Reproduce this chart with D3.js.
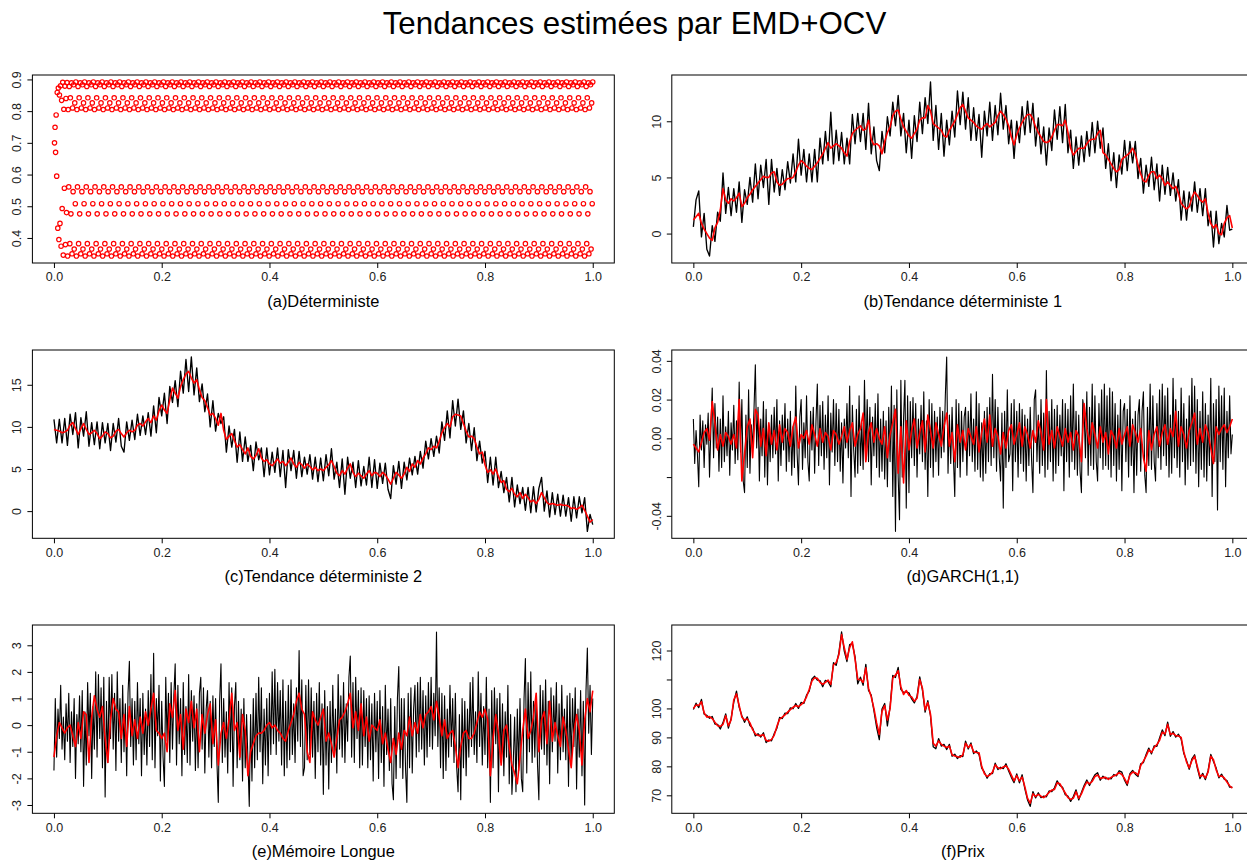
<!DOCTYPE html>
<html><head><meta charset="utf-8">
<script src="https://cdn.jsdelivr.net/npm/d3@7"></script>
<style>body{margin:0;background:#fff}svg{display:block}</style>
</head><body>
<svg id="chart" width="1247" height="863"></svg>
<script>
const title = "Tendances estimées par EMD+OCV";
const xTicks = [0, 0.2, 0.4, 0.6, 0.8, 1.0];
const xTickLabels = ["0.0", "0.2", "0.4", "0.6", "0.8", "1.0"];

// (a) Déterministe — points
const aValues = [
.700,.749,.670,.788,.595,.859,.431,.873,.395,.851,.446,.880,.374,.834,.493,.891,.346,.806,.557,.879,.379,.840,.480,.890,
.343,.805,.561,.878,.382,.842,.476,.889,.350,.810,.546,.883,.365,.826,.508,.892,
.343,.805,.561,.878,.382,.842,.476,.889,.350,.810,.546,.883,.365,.826,.508,.892,
.343,.805,.561,.878,.382,.842,.476,.889,.350,.810,.546,.883,.365,.826,.508,.892,
.343,.805,.561,.878,.382,.842,.476,.889,.350,.810,.546,.883,.365,.826,.508,.892,
.343,.805,.561,.878,.382,.842,.476,.889,.350,.810,.546,.883,.365,.826,.508,.892,
.343,.805,.561,.878,.382,.842,.476,.889,.350,.810,.546,.883,.365,.826,.508,.892,
.343,.805,.561,.878,.382,.842,.476,.889,.350,.810,.546,.883,.365,.826,.508,.892,
.343,.805,.561,.878,.382,.842,.476,.889,.350,.810,.546,.883,.365,.826,.508,.892,
.343,.805,.561,.878,.382,.842,.476,.889,.350,.810,.546,.883,.365,.826,.508,.892,
.343,.805,.561,.878,.382,.842,.476,.889,.350,.810,.546,.883,.365,.826,.508,.892,
.343,.805,.561,.878,.382,.842,.476,.889,.350,.810,.546,.883,.365,.826,.508,.892,
.343,.805,.561,.878,.382,.842,.476,.889,.350,.810,.546,.883,.365,.826,.508,.892,
.343,.805,.561,.878,.382,.842,.476,.889,.350,.810,.546,.883,.365,.826,.508,.892,
.343,.805,.561,.878,.382,.842,.476,.889,.350,.810,.546,.883,.365,.826,.508,.892,
.343,.805,.561,.878,.382,.842,.476,.889,.350,.810,.546,.883,.365,.826,.508,.892,
.343,.805,.561,.878,.382,.842,.476,.889,.350,.810,.546,.883,.365,.826,.508,.892,
.343,.805,.561,.878,.382,.842,.476,.889,.350,.810,.546,.883,.365,.826,.508,.892,
.343,.805,.561,.878,.382,.842,.476,.889,.350,.810,.546,.883,.365,.826,.508,.892,
.343,.805,.561,.878,.382,.842,.476,.889,.350,.810,.546,.883,.365,.826,.508,.892,
.343,.805,.561,.878,.382,.842,.476,.889,.350,.810,.546,.883,.365,.826,.508,.892,
.343,.805,.561,.878,.382,.842,.476,.889,.350,.810,.546,.883,.365,.826,.508,.892,
.343,.805,.561,.878,.382,.842,.476,.889,.350,.810,.546,.883,.365,.826,.508,.892,
.343,.805,.561,.878,.382,.842,.476,.889,.350,.810,.546,.883,.365,.826,.508,.892,
.343,.805,.561,.878,.382,.842,.476,.889,.350,.810,.546,.883,.365,.826,.508,.892,
.343,.805,.561,.878,.382,.842,.476,.889,.350,.810,.546,.883,.365,.826,.508,.892,
.343,.805,.561,.878,.382,.842,.476,.889,.350,.810,.546,.883,.365,.826,.508,.892,
.343,.805,.561,.878,.382,.842,.476,.889,.350,.810,.546,.883,.365,.826,.508,.892,
.343,.805,.561,.878,.382,.842,.476,.889,.350,.810,.546,.883,.365,.826,.508,.892,
.343,.805,.561,.878,.382,.842,.476,.889,.350,.810,.546,.883,.365,.826,.508,.892,
.343,.805,.561,.878,.382,.842,.476,.889,.350,.810,.546,.883,.365,.826,.508,.892,
.343,.805,.561,.878,.382,.842,.476,.889,.350,.810,.546,.883,.365,.826,.508,.892,
.343,.805,.561,.878,.382,.842,.476,.889,.350,.810,.546,.883,.365,.826,.508,.892,
.343,.805,.561,.878,.382,.842,.476,.889,.350,.810,.546,.883,.365,.826,.508,.892,
.343,.805,.561,.878,.382,.842,.476,.889,.350,.810,.546,.883,.365,.826,.508,.892,
.343,.805,.561,.878,.382,.842,.476,.889,.350,.810,.546,.883,.365,.826,.508,.892,
.343,.805,.561,.878,.382,.842,.476,.889,.350,.810,.546,.883,.365,.826,.508,.892,
.343,.805,.561,.878,.382,.842,.476,.889,.350,.810,.546,.883,.365,.826,.508,.892,
.343,.805,.561,.878,.382,.842,.476,.889,.350,.810,.546,.883,.365,.826,.508,.892,
.343,.805,.561,.878,.382,.842,.476,.889,.350,.810,.546,.883,.365,.826,.508,.892,
.343,.805,.561,.878,.382,.842,.476,.889,.350,.810,.546,.883,.365,.826,.508,.892,
.343,.805,.561,.878,.382,.842,.476,.889,.350,.810,.546,.883,.365,.826,.508,.892,
.343,.805,.561,.878,.382,.842,.476,.889,.350,.810,.546,.883,.365,.826,.508,.892,
.343,.805,.561,.878,.382,.842,.476,.889,.350,.810,.546,.883,.365,.826,.508,.892,
.343,.805,.561,.878,.382,.842,.476,.889,.350,.810,.546,.883,.365,.826,.508,.892,
.343,.805,.561,.878,.382,.842,.476,.889,.350,.810,.546,.883,.365,.826,.508,.892,
.343,.805,.561,.878,.382,.842,.476,.889,.350,.810,.546,.883,.365,.826,.508,.892,
.343,.805,.561,.878,.382,.842,.476,.889,.350,.810,.546,.883,.365,.826,.508,.892,
.343,.805,.561,.878,.382,.842,.476,.889,.350,.810,.546,.883,.365,.826,.508,.892,
.343,.805,.561,.878,.382,.842,.476,.889,.350,.810,.546,.883,.365,.826,.508,.892,
.343,.805,.561,.878,.382,.842,.476,.889,.350,.810,.546,.883,.365,.826,.508,.892,
.343,.805,.561,.878,.382,.842,.476,.889,.350,.810,.546,.883,.365,.826,.508,.892,
.343,.805,.561,.878,.382,.842,.476,.889,.350,.810,.546,.883,.365,.826,.508,.892,
.343,.805,.561,.878,.382,.842,.476,.889,.350,.810,.546,.883,.365,.826,.508,.892,
.343,.805,.561,.878,.382,.842,.476,.889,.350,.810,.546,.883,.365,.826,.508,.892,
.343,.805,.561,.878,.382,.842,.476,.889,.350,.810,.546,.883,.365,.826,.508,.892,
.343,.805,.561,.878,.382,.842,.476,.889,.350,.810,.546,.883,.365,.826,.508,.892,
.343,.805,.561,.878,.382,.842,.476,.889,.350,.810,.546,.883,.365,.826,.508,.892,
.343,.805,.561,.878,.382,.842,.476,.889,.350,.810,.546,.883,.365,.826,.508,.892,
.343,.805,.561,.878,.382,.842,.476,.889,.350,.810,.546,.883,.365,.826,.508,.892,
.343,.805,.561,.878,.382,.842,.476,.889,.350,.810,.546,.883,.365,.826,.508,.892
];
const aYTicks = [0.4, 0.5, 0.6, 0.7, 0.8, 0.9];
const aYLabels = ["0.4", "0.5", "0.6", "0.7", "0.8", "0.9"];

// (b) Tendance déterministe 1
const bBlack = [
0.6,3.0,3.8,-0.3,1.8,-1.4,-2.0,0.7,-0.7,1.9,
1.1,5.4,1.8,4.1,1.6,4.0,1.9,4.6,1.0,3.9,
2.6,5.0,2.8,6.2,3.1,6.1,4.1,6.6,2.6,6.6,
3.7,5.8,3.4,5.7,3.9,6.4,4.5,7.1,4.6,8.4,
5.2,7.5,4.6,7.1,4.6,7.5,4.6,8.5,6.2,9.1,
6.5,10.8,6.2,9.2,6.5,9.0,6.2,8.5,6.2,10.6,
8.0,10.7,8.2,10.7,7.5,11.6,7.1,9.5,6.5,5.6,
9.1,7.2,10.4,8.7,11.7,9.6,12.3,8.7,10.7,7.2,
10.1,6.7,10.5,8.2,11.7,8.9,12.1,9.8,13.5,8.3,
11.4,7.5,10.7,6.9,10.1,7.9,10.9,8.6,12.7,9.7,
12.6,9.3,12.1,8.3,11.2,8.3,10.6,6.8,10.9,8.7,
11.7,8.3,11.4,8.8,12.5,9.3,11.4,8.0,10.1,6.7,
10.0,8.1,11.3,8.8,11.8,9.0,11.6,7.8,10.3,7.1,
9.5,6.1,9.4,7.4,11.0,8.4,11.3,8.1,11.5,7.2,
9.2,5.8,8.6,6.1,8.7,6.4,9.1,6.9,9.9,7.2,
10.0,7.6,9.4,5.8,8.0,4.7,7.2,4.1,7.0,5.3,
8.3,5.6,8.2,6.3,8.2,4.9,6.7,3.6,6.1,4.2,
6.8,3.9,6.2,2.9,6.1,3.5,5.9,3.4,5.4,2.9,
4.8,1.2,3.8,1.2,3.7,2.0,4.6,1.9,4.0,1.6,
4.0,0.7,2.0,-1.2,2.0,-0.9,0.9,-0.3,2.5,0.3,
0.4];
const bRed = [
1.2,1.5,1.8,0.9,0.4,0.0,-0.4,-0.6,0.5,1.0,
2.1,4.0,3.0,2.7,3.1,2.9,3.2,3.6,2.4,2.7,
3.2,3.5,3.9,4.2,4.5,4.8,5.1,5.0,5.0,5.4,
5.5,4.6,4.3,4.4,4.7,4.9,4.9,5.0,5.5,6.1,
6.5,6.3,6.0,5.8,5.7,6.0,6.3,6.7,7.1,7.6,
8.1,7.6,7.8,8.0,7.8,7.6,7.2,6.9,8.2,8.9,
9.2,9.4,9.6,9.2,9.3,10.1,8.4,7.9,8.0,7.8,
7.1,8.2,9.0,9.5,10.5,10.9,11.0,10.2,9.5,9.1,
8.7,8.5,8.9,9.3,10.1,10.3,10.3,11.4,10.9,9.8,
9.6,9.4,9.2,8.7,8.6,9.2,9.6,10.0,10.6,11.2,
11.5,10.9,10.3,10.1,9.9,9.6,9.4,9.3,9.6,9.8,
9.5,9.7,9.9,10.5,10.9,10.6,10.2,9.6,8.6,7.9,
8.8,9.4,9.9,10.3,10.6,10.6,10.2,9.5,9.0,8.6,
8.2,8.1,8.2,8.6,9.2,9.7,9.7,9.6,10.1,9.0,
7.6,7.0,7.3,7.6,7.6,7.6,8.0,8.3,8.4,8.4,
8.9,9.2,7.2,7.0,6.6,6.2,5.8,5.5,5.7,6.6,
6.8,7.0,7.2,7.6,7.1,6.1,5.3,4.7,4.6,5.2,
5.5,5.5,4.9,5.2,4.9,4.3,4.6,4.3,4.0,4.2,
3.6,2.7,2.4,2.2,2.4,3.2,3.7,3.4,3.0,2.8,
3.1,1.8,0.9,0.5,0.8,0.0,-0.1,0.9,1.4,1.6,
0.5];
const bYTicks = [0, 5, 10];
const bYLabels = ["0", "5", "10"];

// (c) Tendance déterministe 2
const cBlack = [
10.9,8.1,10.9,8.1,11.0,7.8,11.5,9.1,11.7,7.5,
11.1,8.9,11.8,7.7,10.5,7.9,10.6,7.4,10.5,8.1,
10.4,7.2,10.4,8.2,11.0,7.7,7.0,10.6,8.4,10.8,
8.5,11.5,9.0,11.3,9.1,11.7,8.9,12.5,9.3,13.5,
11.3,14.0,10.4,14.8,12.9,15.5,12.4,16.6,14.0,18.0,
14.2,18.3,13.8,17.0,13.0,15.1,11.8,13.9,10.0,13.1,
9.5,11.6,10.4,11.2,7.0,10.1,7.6,9.7,5.8,9.4,
5.9,8.8,5.9,7.8,4.8,8.2,6.1,7.5,4.1,7.5,
4.3,7.0,4.6,7.5,4.1,7.2,2.8,7.3,4.8,7.2,
3.9,7.1,4.1,6.4,4.4,6.7,3.8,6.4,3.5,6.3,
3.6,6.7,4.2,7.4,3.8,5.8,2.8,6.2,2.0,6.4,
3.9,5.8,2.8,6.0,3.0,5.3,3.1,6.4,2.8,6.1,
2.7,5.7,3.3,5.7,2.6,1.5,5.4,3.2,5.9,2.7,
5.8,3.7,6.3,4.3,6.5,4.4,7.1,5.1,8.3,6.2,
8.6,6.5,8.9,6.9,10.6,8.4,11.9,8.7,13.1,10.1,
13.3,9.7,11.9,8.1,10.4,7.2,9.9,6.0,8.3,5.7,
7.1,3.4,6.4,3.1,6.4,2.8,4.7,2.2,4.0,1.1,
4.0,0.5,3.1,0.9,2.8,0.1,2.8,-0.2,2.9,-0.1,
2.7,4.0,0.0,2.4,-0.7,2.2,-0.4,2.0,-0.6,1.9,
-0.6,1.6,-1.2,1.7,-0.8,1.7,-0.2,1.6,-2.4,-0.4,
-1.6];
const cRed = [
9.7,9.6,9.5,9.3,9.4,9.6,10.2,10.5,9.8,9.1,
9.8,10.4,9.7,9.1,9.3,9.6,9.2,8.6,8.9,9.4,
9.2,8.7,8.9,9.5,9.7,9.2,8.8,9.3,9.6,9.4,
9.6,10.2,10.4,10.1,10.6,11.0,10.5,11.3,10.8,11.9,
12.6,12.0,11.6,13.2,14.6,14.0,13.4,14.8,15.6,16.3,
16.6,15.8,15.2,15.6,14.4,13.5,13.1,12.3,11.4,11.6,
11.0,10.2,11.6,9.6,8.5,8.9,9.2,8.4,7.6,7.9,
7.3,6.8,7.5,6.5,6.2,6.6,7.4,6.3,5.9,6.1,
5.6,5.4,5.8,6.2,5.7,5.9,5.4,5.8,6.3,5.6,
5.2,5.8,5.5,5.1,5.6,5.3,4.9,5.2,4.8,5.0,
4.8,5.2,5.5,6.0,5.3,4.5,4.2,4.8,4.4,5.1,
5.6,4.6,4.1,4.5,4.2,3.9,4.4,4.8,4.2,4.6,
4.5,4.1,4.6,4.3,3.8,3.2,3.9,4.6,4.3,3.9,
4.4,5.2,4.7,5.6,5.2,6.0,5.6,6.3,6.8,7.5,
7.3,7.7,7.5,8.3,9.3,9.9,10.4,10.0,11.2,11.5,
11.4,11.3,10.4,9.5,8.8,8.9,8.6,7.6,6.8,7.0,
5.5,4.6,4.9,4.4,5.0,4.1,3.4,3.6,2.6,2.3,
2.7,2.0,1.7,2.2,1.5,2.0,1.6,1.1,1.3,0.9,
1.4,2.2,1.6,1.0,0.8,0.9,0.8,0.7,0.8,0.7,
0.7,0.6,0.3,0.4,0.2,0.4,0.7,0.1,-0.6,-1.3,
-1.0];
const cYTicks = [0, 5, 10, 15];
const cYLabels = ["0", "5", "10", "15"];

// (d) GARCH(1,1)
const dBlack = [
.010,-.013,.004,-.008,-.025,.012,-.006,.009,-.015,.007,-.003,.013,-.020,.005,.026,-.010,.018,-.005,.011,-.017,
.010,-.015,.022,-.012,.006,-.009,.014,-.019,.008,-.006,.017,-.013,.009,-.011,.029,-.007,.020,-.022,-.028,.012,
-.015,.025,-.018,.007,-.005,.015,.038,-.005,.016,-.022,.010,-.009,.019,-.020,.015,-.024,.006,-.012,.012,-.010,
.016,-.008,.020,-.022,.009,-.014,.012,-.006,.018,-.017,.010,-.012,.014,-.019,.006,-.015,.027,-.008,-.024,.011,
.020,-.016,.008,-.010,.022,-.012,-.022,.014,-.006,.016,-.018,.009,.028,-.014,.017,-.009,.019,-.016,.012,-.010,
.022,-.024,.013,-.007,.020,-.014,.018,-.012,.015,-.017,.008,-.023,.010,-.005,.018,-.010,.027,-.030,.017,-.006,
-.020,.015,-.018,.022,-.014,.008,-.016,.030,-.011,.020,-.012,.016,-.024,.011,-.009,.018,-.015,.023,-.020,.010,
-.017,.014,-.021,.009,-.025,.016,-.012,.027,-.030,.017,-.048,.025,-.020,-.042,.030,-.020,.010,.030,-.036,.022,
-.028,.019,-.010,.021,-.014,.018,-.020,.010,-.008,.017,-.012,.024,-.016,.009,-.030,.020,-.015,.018,-.020,.014,
-.012,.011,-.019,.016,-.010,.014,-.007,.022,.042,-.018,.012,-.013,.016,-.010,-.030,.020,-.015,.018,-.020,.014,
-.012,.011,.016,-.019,.014,-.009,.023,-.012,.010,-.017,.024,-.016,.018,-.020,.008,-.022,.014,-.018,.016,-.012,
.021,-.014,.033,-.010,.020,-.017,.016,-.010,-.022,.013,-.036,.014,-.015,.025,-.012,-.008,.018,-.027,.020,-.012,
.014,-.020,.018,-.013,.015,-.017,.012,-.022,.010,-.014,.016,-.011,-.028,.020,.025,-.012,.012,-.018,.020,-.014,
.013,-.020,.035,-.016,.014,-.012,.020,-.022,.015,-.018,.017,-.014,.012,-.009,.020,-.027,.018,-.012,.015,-.020,
.022,-.012,.028,-.016,.014,-.019,.012,-.017,-.028,.020,.014,-.010,.024,-.019,.016,-.014,.028,-.016,.022,-.012,
-.022,.018,-.010,.025,-.016,.028,-.014,.022,-.016,.026,-.020,.024,-.014,.018,-.022,.012,-.016,.020,-.027,.014,
.018,-.012,.015,-.020,.022,-.014,.010,-.028,.014,-.019,.012,.020,-.017,.014,.024,-.019,-.028,.016,-.014,.028,
-.016,.022,-.012,-.022,.018,-.010,.025,-.016,.028,-.009,.022,-.014,.026,-.020,.012,-.018,.031,-.010,.020,-.015,
.014,-.020,.026,-.012,.018,-.024,.010,-.016,.022,-.014,.031,-.012,.027,-.018,.020,-.025,.014,-.016,.024,-.020,
.018,-.022,.012,-.014,.031,-.030,.018,-.012,.020,-.037,.027,-.012,.022,-.016,.026,-.025,.014,-.010,.022,-.008,
.002];
const dRed = [
-.003,-.005,-.007,-.002,.003,.005,-.001,.019,.008,-.006,
.002,-.004,.003,.001,-.003,.002,-.005,.020,-.022,-.008,
.006,.010,-.010,.015,.012,-.004,.005,-.009,.008,-.003,
.004,-.006,.007,-.002,.005,.003,-.004,.006,.011,-.005,
.002,0,.004,-.003,.007,.002,-.004,.005,-.002,.003,
.001,-.006,.004,.002,-.003,.001,.006,-.002,.004,.008,
-.004,.002,.005,.013,-.012,.003,.008,-.002,.005,0,
-.003,.006,-.010,.002,.008,.015,-.018,.006,-.023,.009,
-.006,.004,.010,-.005,.003,.009,-.007,.012,.004,-.005,
.008,.002,-.004,.006,.013,-.004,.003,-.012,.007,-.002,
.004,-.006,.005,.001,-.003,.006,-.007,.003,.010,-.002,
.012,-.004,.005,.001,-.008,.003,-.005,.004,.007,-.003,
.002,.008,-.004,.006,.002,-.005,.004,-.002,.009,.003,
-.006,.020,-.003,.004,-.005,.006,.001,-.004,.005,-.002,
.003,-.006,.004,.001,-.012,.018,.005,-.003,.008,.002,
-.005,.006,-.002,.003,-.008,.004,.001,-.005,.005,-.003,
.002,.006,-.004,.007,.003,-.002,.005,-.010,-.017,.004,
-.006,.002,.006,-.004,.003,.007,-.003,.005,.001,.014,
-.004,.006,.002,-.005,.004,.008,.013,-.003,.005,-.002,
.007,.003,-.005,-.013,.006,.002,.005,.007,.003,.006,
.010];
const dYTicks = [-0.04, -0.02, 0, 0.02, 0.04];
const dYLabels = ["-0.04", "", "0.00", "0.02", "0.04"];

// (e) Mémoire Longue
const eBlack = [
-1.7,1.0,-1.2,0.6,-0.5,1.5,-0.9,0.3,-1.3,0.8,-0.6,1.2,-1.4,0.5,-0.8,1.0,-2.0,0.4,-0.7,1.1,
-1.0,1.3,-2.3,0.5,-1.5,1.6,-0.4,1.2,-2.0,0.7,-0.9,2.0,-1.2,1.9,-0.5,1.4,-1.6,1.8,-2.7,0.9,
-1.4,1.8,-0.5,1.9,-0.9,1.2,-1.7,2.0,-0.6,1.0,-1.4,1.5,-1.0,0.8,-1.9,1.2,2.4,-0.8,1.0,-1.5,
0.9,-1.3,1.6,-0.7,1.0,-1.9,1.2,-1.1,0.6,-1.5,1.3,-0.8,1.9,-1.3,2.7,-1.6,1.0,-0.4,1.5,-2.1,
0.9,-1.2,-2.3,1.8,-0.6,1.2,-1.4,1.6,-0.9,1.1,2.3,-1.5,1.5,-0.7,1.0,-1.9,1.6,-1.1,0.7,-1.4,
1.9,-1.5,1.3,-0.6,1.1,-1.7,0.8,-1.6,1.2,1.8,-0.9,1.4,-1.8,0.6,1.3,-1.2,0.9,-1.6,1.1,-0.8,
1.0,-1.4,-2.9,0.9,2.3,-1.4,1.0,-1.2,0.5,-1.8,1.6,-1.0,1.4,-2.3,0.7,1.6,-1.6,0.9,-1.3,0.6,
-2.1,1.0,-1.6,0.4,-1.3,-3.05,0.4,-2.1,1.0,-1.6,1.2,-1.3,1.8,-1.0,1.4,-2.2,0.6,-1.5,1.0,-1.9,
1.2,-1.1,2.0,-0.7,2.1,-1.1,1.6,-0.6,1.3,-1.5,1.7,-1.9,0.9,-1.6,1.5,-1.3,1.7,-1.1,0.8,-1.4,
1.4,-0.6,2.8,-0.8,1.7,-1.9,-1.6,1.5,-1.3,1.7,-1.1,1.4,-1.2,0.9,-2.0,1.2,-1.0,1.6,-1.5,0.8,
-2.6,1.3,-1.5,0.7,-2.4,0.9,-1.4,1.5,-1.1,0.6,-1.8,1.9,-0.9,1.1,-1.2,1.6,-1.4,0.8,-0.6,1.8,
2.6,-1.2,1.6,-1.4,1.8,-0.5,1.3,-1.6,1.4,-1.5,1.3,-0.8,1.0,-1.6,1.1,-1.3,0.8,-2.1,1.2,-1.0,
0.9,-2.0,1.3,-1.4,0.7,-2.3,1.5,-1.1,0.6,-1.7,1.0,-2.2,-2.8,0.7,-2.0,1.0,2.2,-1.6,1.0,-2.0,
1.0,-1.6,-2.9,1.2,-1.6,1.4,-1.8,0.6,1.5,-1.2,1.6,-1.0,1.8,-0.9,1.3,-1.5,1.1,-1.2,1.6,-0.8,
1.8,-0.9,1.2,-0.4,3.5,-0.8,1.4,-1.6,1.2,-2.0,1.1,-1.7,0.6,-1.2,1.5,-0.8,1.0,-1.4,1.2,-1.6,
-2.5,0.4,-2.8,1.0,-1.6,0.9,-1.9,0.6,-1.2,1.6,-0.8,1.8,-1.1,0.5,-1.4,2.0,-0.8,1.2,-1.5,0.7,
-1.1,1.8,-1.6,0.6,-2.9,1.3,-1.6,1.4,-0.7,1.0,-2.5,1.2,-1.4,0.8,-1.9,0.5,-1.2,1.5,-2.2,0.4,
-2.6,-1.4,0.3,-2.5,0.6,-1.7,1.0,-2.0,-2.5,1.0,2.5,-1.8,1.6,-1.0,2.0,-1.4,0.9,-1.2,1.1,-1.5,
-2.8,1.5,-0.9,1.3,-1.1,1.7,-1.5,0.9,-2.2,1.4,-1.0,1.1,-0.6,1.6,-1.8,0.8,-1.3,1.5,-1.0,0.6,
-1.3,1.1,-2.3,1.2,-1.5,1.0,-0.8,1.4,-2.4,0.6,-1.2,1.3,-1.9,0.9,-3.0,1.3,2.9,-0.3,1.5,-1.1,
1.0];
const eRed = [
-1.2,-0.4,0.1,-0.1,-0.3,-0.1,0.0,-0.4,-0.8,0.1,
-0.5,0.5,0.4,-1.4,0.3,1.1,0.6,0.3,0.7,-0.5,
-1.4,0.2,1.0,0.6,0.5,-0.5,0.4,-0.8,0.7,-0.4,
0.2,-0.5,0.3,-0.3,0.5,0.0,0.6,1.2,-0.2,-0.3,
-0.5,-0.3,-1.0,0.8,0.3,1.3,-0.2,0.4,-0.9,0.6,
0.1,0.9,-0.1,0.6,-1.0,0.4,-0.3,0.4,0.8,-0.7,
0.2,-1.5,-0.3,0.1,-0.5,0.2,1.2,-0.2,0.1,-1.2,
0.4,-0.2,-1.9,-1.0,-0.7,-0.4,-0.3,-0.3,-0.2,0.0,
0.1,-0.1,0.0,-0.2,-0.3,-0.5,-0.6,-0.2,0.1,0.4,
0.9,1.2,0.6,0.4,-1.0,-1.4,0.5,0.2,0.0,0.3,
0.6,-0.6,-0.3,-0.7,-1.2,-0.5,0.2,0.3,0.5,0.8,
1.2,-0.1,0.5,-0.2,0.8,-0.4,0.3,-0.6,0.0,-0.1,
-0.2,0.2,-0.7,-0.3,-0.9,-1.4,-0.5,-1.1,-0.3,-0.9,
-0.2,-0.4,0.3,-0.4,0.1,-0.3,0.4,-0.1,0.4,0.5,
0.7,0.2,0.9,0.3,-0.4,0.2,-0.5,-0.3,-0.2,-0.8,
-1.6,-0.8,-0.3,-0.2,-0.5,-0.5,-0.3,0.1,0.5,0.3,
0.6,0.2,-1.9,-0.5,0.4,-0.3,-1.5,-0.2,0.0,-0.8,
-1.5,-1.8,-2.2,-1.2,-0.2,0.6,-0.5,-0.2,0.3,1.2,
-1.0,0.2,0.5,-0.7,0.9,-0.6,0.1,-0.4,-0.8,0.3,
-0.2,-0.9,-1.6,-0.3,0.4,-0.2,-1.5,0.2,1.0,0.5,
1.3];
const eYTicks = [-3, -2, -1, 0, 1, 2, 3];
const eYLabels = ["-3", "-2", "-1", "0", "1", "2", "3"];

// (f) Prix
const fBlack = [
99.6,101.8,100.3,103.1,98.0,97.6,96.6,97.2,94.6,94.5,
92.9,95.1,98.1,93.2,96.5,102.2,106.0,100.4,97.5,95.2,
97.1,94.1,93.2,90.5,91.3,90.1,91.6,88.2,89.1,88.8,
91.3,93.2,96.9,96.5,98.4,98.2,100.2,99.9,101.7,100.0,
102.1,101.7,104.6,106.0,110.2,111.1,109.8,109.6,107.5,109.7,
109.2,107.5,115.8,114.9,119.3,126.4,119.8,116.2,122.0,122.4,
117.8,108.5,110.8,108.0,115.2,106.2,104.6,99.2,93.5,89.2,
99.8,101.7,94.0,100.6,111.4,110.7,114.2,106.6,105.5,105.6,
105.4,103.3,101.9,104.1,110.9,106.4,98.7,102.7,97.4,86.8,
86.1,89.6,87.0,87.6,85.8,87.6,83.5,84.2,82.7,83.7,
83.4,88.7,86.0,88.1,84.4,85.3,84.1,79.4,78.0,75.9,
77.5,77.5,81.1,78.9,79.7,79.2,80.9,78.4,76.2,74.4,
77.4,74.3,77.1,72.3,68.4,66.2,71.3,69.1,70.9,69.2,
69.7,69.5,71.5,71.3,72.6,75.0,73.4,72.8,70.2,69.7,
67.9,69.6,71.9,68.4,71.0,73.4,75.3,73.4,75.4,77.1,
77.8,75.2,76.6,75.7,75.9,75.7,77.2,76.7,78.5,78.0,
75.2,73.4,77.5,78.6,77.3,76.5,80.9,81.3,84.1,86.3,
84.3,87.1,86.9,89.8,92.6,90.6,95.3,90.4,92.0,90.1,
91.1,89.5,84.4,82.0,79.0,82.6,84.0,79.4,75.8,77.6,
75.4,78.5,84.1,81.7,79.4,76.0,77.3,75.6,75.1,72.8,
72.8];
const fRed = [
100.0,101.2,101.0,102.3,98.5,97.0,97.2,96.5,95.2,94.0,
93.8,94.5,97.5,94.0,96.0,103.0,105.0,101.0,97.0,96.0,
96.4,95.0,92.7,91.2,90.7,90.6,91.0,89.0,88.7,89.3,
90.7,93.8,96.3,97.0,97.8,98.7,99.6,100.4,101.0,100.6,
101.3,102.2,104.0,106.6,109.5,110.6,110.4,109.0,108.3,109.0,
109.8,108.3,115.0,115.8,118.5,125.5,121.0,117.0,121.0,123.0,
117.0,110.0,110.0,109.0,114.0,107.0,104.0,100.0,95.0,91.0,
99.0,101.0,96.0,100.0,110.5,111.5,113.0,107.5,104.8,106.2,
104.5,104.0,102.5,103.5,110.0,107.0,99.5,102.0,98.0,88.0,
87.0,88.8,87.6,87.0,86.5,87.0,84.0,83.6,83.3,83.2,
84.0,88.0,86.5,87.5,85.0,84.8,84.7,80.0,77.5,76.5,
77.0,78.0,80.5,79.5,79.2,79.8,80.2,79.0,77.0,75.0,
76.8,75.0,76.3,73.0,69.0,67.3,70.5,69.6,70.3,69.7,
69.2,70.0,71.0,71.8,72.0,74.3,74.0,72.3,70.8,69.2,
68.6,69.0,71.2,69.0,70.5,72.8,74.6,74.0,74.8,76.5,
77.0,75.8,76.1,76.2,75.5,76.2,76.7,77.1,77.8,77.2,
75.8,74.0,77.0,78.0,77.8,77.0,80.3,81.8,83.5,85.7,
84.8,86.5,87.5,89.0,91.8,91.2,94.5,91.0,91.4,90.6,
90.5,90.0,85.0,81.5,79.5,82.0,83.5,80.0,76.5,77.0,
76.0,78.0,83.5,82.3,78.8,76.5,76.7,76.0,74.6,73.3,
72.5];
const fYTicks = [70, 80, 90, 100, 110, 120];
const fYLabels = ["70", "80", "90", "100", "", "120"];

// ---------- layout ----------
const FONT = '"Liberation Sans", Arial, Helvetica, sans-serif';
const cols = [[32.4, 614.3], [671.8, 1253.9]];
const rows = [[75, 263], [350, 538.3], [625, 813.3]];

const panels = [
  {label: "(a)Déterministe", col: 0, row: 0, points: aValues, yTicks: aYTicks, yLabels: aYLabels},
  {label: "(b)Tendance déterministe 1", col: 1, row: 0, black: bBlack, red: bRed, yTicks: bYTicks, yLabels: bYLabels, bw: 1.35},
  {label: "(c)Tendance déterministe 2", col: 0, row: 1, black: cBlack, red: cRed, yTicks: cYTicks, yLabels: cYLabels, bw: 1.35},
  {label: "(d)GARCH(1,1)", col: 1, row: 1, black: dBlack, red: dRed, yTicks: dYTicks, yLabels: dYLabels, bw: 1.1},
  {label: "(e)Mémoire Longue", col: 0, row: 2, black: eBlack, red: eRed, yTicks: eYTicks, yLabels: eYLabels, bw: 1.1},
  {label: "(f)Prix", col: 1, row: 2, black: fBlack, red: fRed, yTicks: fYTicks, yLabels: fYLabels, bw: 1.3}
];

const svg = d3.select("#chart").attr("font-family", FONT);
svg.append("rect").attr("width", 1247).attr("height", 863).attr("fill", "#fff");

svg.append("text").attr("x", 634.5).attr("y", 34).attr("text-anchor", "middle")
  .attr("font-size", 31.3).attr("fill", "#000").text(title);

panels.forEach(p => {
  const [x0, x1] = cols[p.col];
  const [y0, y1] = rows[p.row];
  const all = p.points ? p.points : p.black.concat(p.red);
  const [mn, mx] = d3.extent(all);
  const pad = (mx - mn) * 0.04;
  const x = d3.scaleLinear().domain([-0.04, 1.04]).range([x0, x1]);
  const y = d3.scaleLinear().domain([mn - pad, mx + pad]).range([y1, y0]);
  const g = svg.append("g");

  if (p.points) {
    const n = p.points.length;
    g.selectAll("circle").data(p.points).join("circle")
      .attr("cx", (d, i) => x((i + 1) / n)).attr("cy", d => y(d))
      .attr("r", 2.2).attr("fill", "none").attr("stroke", "#ff0000").attr("stroke-width", 1.2);
  } else {
    const mk = arr => d3.line().x((d, i) => x(i / (arr.length - 1))).y(d => y(d))(arr);
    g.append("path").attr("d", mk(p.black)).attr("fill", "none").attr("stroke", "#000")
      .attr("stroke-width", p.bw).attr("stroke-linejoin", "round");
    g.append("path").attr("d", mk(p.red)).attr("fill", "none").attr("stroke", "#ff0000")
      .attr("stroke-width", 1.6).attr("stroke-linejoin", "round");
  }

  g.append("rect").attr("x", x0).attr("y", y0).attr("width", x1 - x0).attr("height", y1 - y0)
    .attr("fill", "none").attr("stroke", "#000").attr("stroke-width", 1);

  const ax = g.append("g").attr("transform", `translate(0,${y1})`)
    .call(d3.axisBottom(x).tickValues(xTicks).tickFormat((d, i) => xTickLabels[i])
      .tickSize(5).tickSizeOuter(0).tickPadding(4.5));
  ax.select(".domain").remove();
  ax.attr("font-family", FONT).attr("font-size", 12.5);
  ax.selectAll("line").attr("stroke", "#000");
  ax.selectAll("text").attr("fill", "#222");

  const ay = g.append("g").attr("transform", `translate(${x0},0)`)
    .call(d3.axisLeft(y).tickValues(p.yTicks).tickFormat((d, i) => p.yLabels[i])
      .tickSize(5).tickSizeOuter(0));
  ay.select(".domain").remove();
  ay.attr("font-family", FONT).attr("font-size", 12.5);
  ay.selectAll("line").attr("stroke", "#000");
  ay.selectAll("text").attr("x", 0).attr("dy", 0).attr("text-anchor", "middle")
    .attr("transform", "translate(-11,0) rotate(-90)").attr("fill", "#222");

  svg.append("text").attr("x", (x0 + x1) / 2).attr("y", y1 + 44).attr("text-anchor", "middle")
    .attr("font-size", 16.4).attr("fill", "#000").text(p.label);
});
</script>
</body></html>
